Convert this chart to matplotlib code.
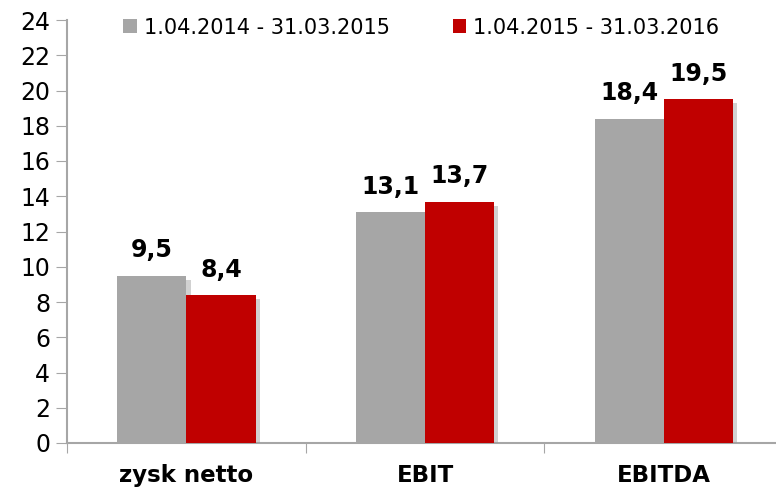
import matplotlib
matplotlib.use("Agg")
import matplotlib.pyplot as plt
import matplotlib.patheffects as pe
import numpy as np

categories = ["zysk netto", "EBIT", "EBITDA"]
series_names = ["1.04.2014 - 31.03.2015", "1.04.2015 - 31.03.2016"]
values_2015 = [9.5, 13.1, 18.4]
values_2016 = [8.4, 13.7, 19.5]
value_labels_2015 = ["9,5", "13,1", "18,4"]
value_labels_2016 = ["8,4", "13,7", "19,5"]
colors = ["#A6A6A6", "#C00000"]

plt.rcParams['font.family'] = ['DejaVu Sans']

fig = plt.figure(figsize=(7.76, 4.93), dpi=100)
ax = fig.add_axes([67/776, 50/493, (776-67)/776 * 1.01, (443-20)/493])

x = np.arange(len(categories))
w = 0.29
shadow = [pe.SimplePatchShadow(offset=(3, -3), shadow_rgbFace='#999999', alpha=0.45), pe.Normal()]
b1 = ax.bar(x - w/2, values_2015, w, color=colors[0], label=series_names[0], zorder=3)
b2 = ax.bar(x + w/2, values_2016, w, color=colors[1], label=series_names[1], zorder=3)
for b in list(b1) + list(b2):
    b.set_path_effects(shadow)

for xi, v, l in zip(x - w/2, values_2015, value_labels_2015):
    ax.text(xi, v + 0.75, l, ha='center', va='bottom', fontsize=17, fontweight='bold')
for xi, v, l in zip(x + w/2, values_2016, value_labels_2016):
    ax.text(xi, v + 0.75, l, ha='center', va='bottom', fontsize=17, fontweight='bold')

ax.set_ylim(0, 24)
ax.set_yticks(np.arange(0, 25, 2))
ax.set_xlim(-0.5, 2.5)
ax.set_xticks([-0.5, 0.5, 1.5, 2.5])
ax.set_xticklabels([])
ax.set_xticks(x, minor=True)
ax.set_xticklabels(categories, minor=True, fontsize=16.5, fontweight='bold')
ax.tick_params(axis='x', which='minor', length=0, pad=15)
ax.tick_params(axis='x', which='major', length=7, color='#A6A6A6', direction='out')
ax.tick_params(axis='y', length=8, color='#A6A6A6', labelsize=17, pad=4)
for s in ['top', 'right']:
    ax.spines[s].set_visible(False)
for s in ['left', 'bottom']:
    ax.spines[s].set_color('#A6A6A6')
    ax.spines[s].set_linewidth(1.5)

leg = ax.legend(loc='upper center', bbox_to_anchor=(0.495, 1.05), ncol=2, frameon=False,
                fontsize=15, handlelength=0.65, handleheight=0.65, handletextpad=0.35,
                columnspacing=3.0)
for h in leg.legend_handles:
    h.set_path_effects([])

fig.savefig("out.png", dpi=100)
